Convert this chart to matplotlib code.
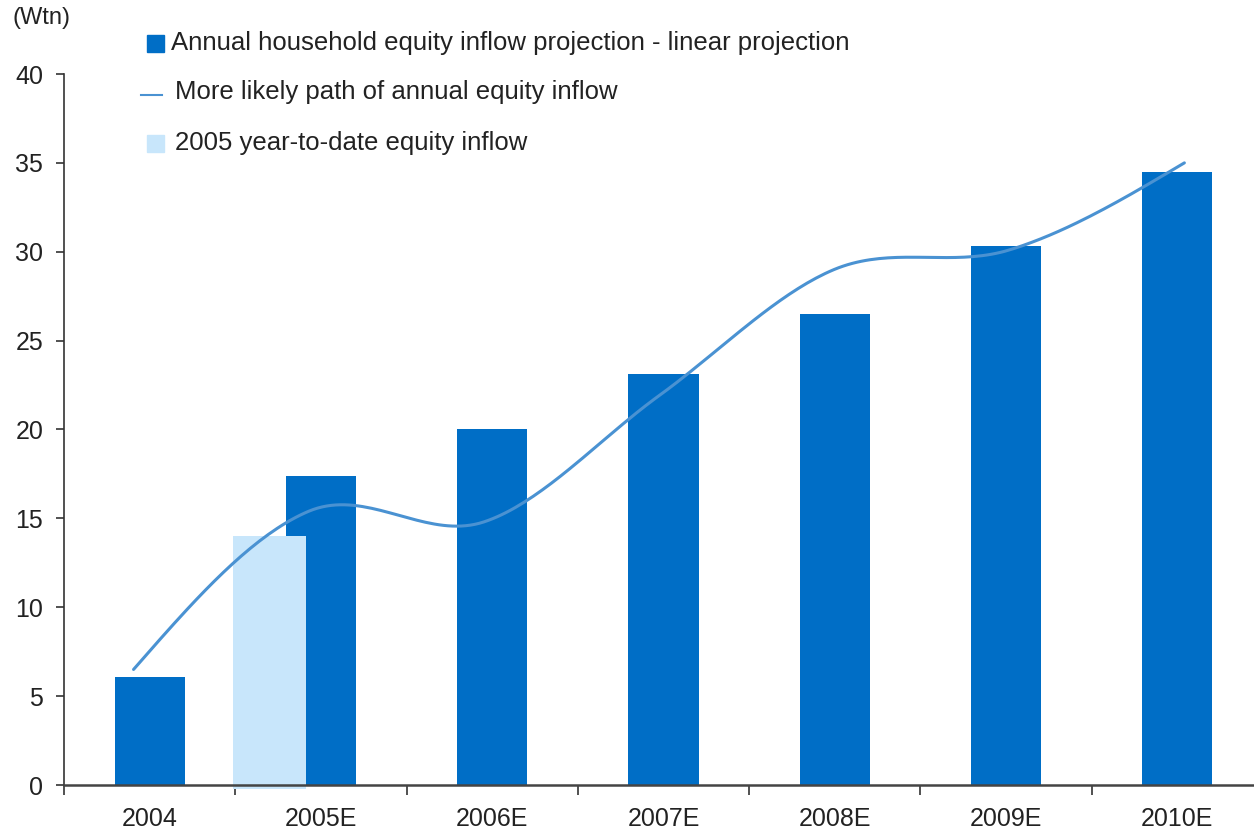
import numpy as np
import matplotlib.pyplot as plt
from matplotlib.patches import Rectangle
from matplotlib.lines import Line2D

plt.rcParams['font.family'] = ['Liberation Sans', 'DejaVu Sans']

# Data (Wtn)
years = ['2004', '2005E', '2006E', '2007E', '2008E', '2009E', '2010E']
linear_projection = [6.1, 17.4, 20.0, 23.1, 26.5, 30.3, 34.5]
likely_path = [6.5, 15.4, 14.8, 21.9, 29.0, 30.1, 35.0]
ytd_2005 = 14.0

DARK = '#006EC6'
LIGHT = '#C8E6FB'
LINE = '#4A92D2'
TEXT = '#222222'


def smooth_curve(y, n=40):
    """Cubic Hermite spline through points (uniform spacing), natural ends."""
    y = np.asarray(y, dtype=float)
    m = np.zeros_like(y)
    m[1:-1] = (y[2:] - y[:-2]) / 2
    m[0] = (3 * (y[1] - y[0]) - m[1]) / 2
    m[-1] = (3 * (y[-1] - y[-2]) - m[-2]) / 2
    t = np.linspace(0, 1, n)
    h00 = 2 * t**3 - 3 * t**2 + 1
    h10 = t**3 - 2 * t**2 + t
    h01 = -2 * t**3 + 3 * t**2
    h11 = t**3 - t**2
    xs, ys = [], []
    for i in range(len(y) - 1):
        xs.append(i + t)
        ys.append(h00 * y[i] + h10 * m[i] + h01 * y[i + 1] + h11 * m[i + 1])
    return np.concatenate(xs), np.concatenate(ys)


W, H = 1254, 838
fig = plt.figure(figsize=(W / 100, H / 100), dpi=100)
# axis runs slightly past the right edge of the figure
ax = fig.add_axes([64 / W, (H - 785) / H, 1199 / W, 711 / H])

x = np.arange(len(years))
ax.bar(x, linear_projection, width=0.41, color=DARK, zorder=2)

# year-to-date bar sits just left of the 2005E projection
ax.bar(0.70, ytd_2005 + 0.2, bottom=-0.2, width=0.43, color=LIGHT,
       zorder=3, clip_on=False)

sx, sy = smooth_curve(likely_path)
# line points spread a little wider than the bar centres
sx = -0.094 + sx * 1.0225
ax.plot(sx, sy, color=LINE, lw=2.2, solid_capstyle='round', zorder=4,
        clip_on=False)

ax.set_xlim(-0.5, 6.5)
ax.set_ylim(0, 40)
ax.set_yticks(np.arange(0, 41, 5))
ax.set_xticks(x)
ax.set_xticklabels(years)
ax.set_xticks(np.arange(-0.5, 6.5, 1), minor=True)

for side in ['top', 'right']:
    ax.spines[side].set_visible(False)
ax.spines['left'].set_color('#333333')
ax.spines['left'].set_linewidth(1.2)
ax.spines['bottom'].set_color('#444444')
ax.spines['bottom'].set_linewidth(1.8)
ax.spines['bottom'].set_zorder(5)

ax.tick_params(axis='y', length=6, width=1.2, color='#333333', pad=9,
               labelsize=18, labelcolor=TEXT)
ax.tick_params(axis='x', which='major', length=0, pad=16, labelsize=18,
               labelcolor=TEXT)
ax.tick_params(axis='x', which='minor', length=7, width=1.2, color='#333333')

fig.text(12 / W, 1 - 18 / H, '(Wtn)', fontsize=17, color=TEXT, va='center')

# hand-placed legend
fig.add_artist(Rectangle((147 / W, 1 - 52 / H), 17 / W, 17 / H,
                         transform=fig.transFigure, color=DARK))
fig.text(171 / W, 1 - 43 / H, 'Annual household equity inflow projection - linear projection',
         fontsize=18.5, color=TEXT, va='center')
fig.add_artist(Line2D([141 / W, 162 / W], [1 - 95 / H, 1 - 95 / H],
                      transform=fig.transFigure, color=LINE, lw=1.5))
fig.text(175 / W, 1 - 92 / H, 'More likely path of annual equity inflow',
         fontsize=18.5, color=TEXT, va='center')
fig.add_artist(Rectangle((147 / W, 1 - 152 / H), 17 / W, 17 / H,
                         transform=fig.transFigure, color=LIGHT))
fig.text(175 / W, 1 - 143 / H, '2005 year-to-date equity inflow',
         fontsize=18.5, color=TEXT, va='center')

fig.savefig('out.png', dpi=100)
